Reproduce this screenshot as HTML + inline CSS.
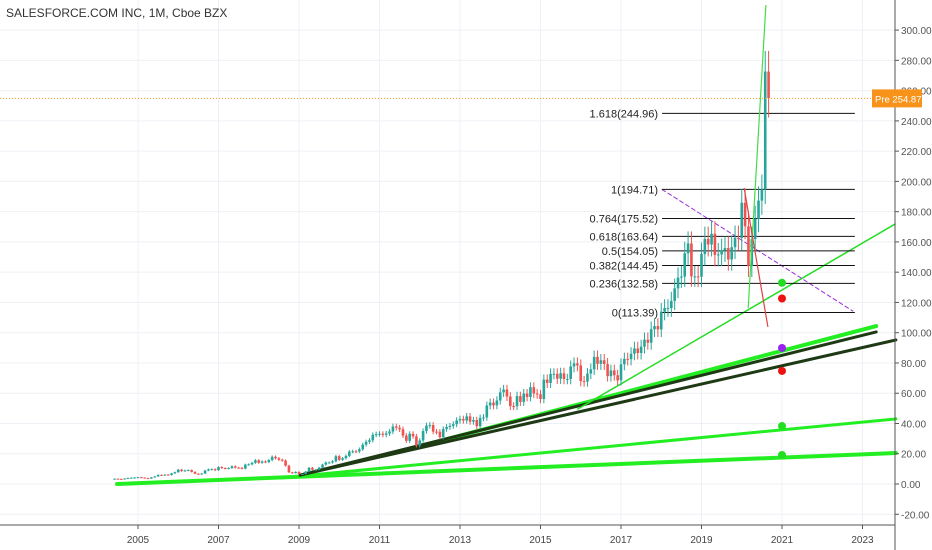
<!DOCTYPE html>
<html><head><meta charset="utf-8"><style>
html,body{margin:0;padding:0;background:#fff;}
svg{display:block;font-family:"Liberation Sans",sans-serif;}
</style></head><body>
<svg id="chart" width="932" height="550">
<rect x="0" y="0" width="932" height="550" fill="#fff"/>
<g id="grid"></g>
<g id="drawings"></g>
<g id="candles"></g>
<g id="overlay"></g>
<g id="axes"></g>
<text x="6" y="17" font-size="12" fill="#333">SALESFORCE.COM INC, 1M, Cboe BZX</text>
</svg>
<script>
const startYear = 2004 + 5/12;
const closes = [
3.5,3.4,3.2,3.6,4.0,4.2,4.3,
4.5,4.2,3.9,3.6,4.4,5.0,6.0,5.8,6.2,5.9,7.0,7.8,
9.5,8.5,9.0,9.2,8.0,6.8,6.5,6.9,8.9,9.7,9.8,9.1,
11.2,10.5,10.3,10.5,11.7,10.8,10.7,10.2,12.8,13.0,14.0,15.7,
14.0,14.9,14.5,15.8,18.0,17.0,16.0,15.5,12.1,7.7,7.2,8.0,
6.6,6.6,8.2,10.7,9.5,9.5,10.8,12.8,14.2,14.2,15.0,18.4,
16.0,17.0,18.6,21.4,21.6,21.5,23.0,26.0,27.9,28.9,32.5,33.0,
33.2,32.5,33.4,34.7,38.0,37.2,36.2,32.0,28.5,33.2,31.5,25.4,
28.8,35.0,38.6,38.9,34.6,34.5,31.0,36.3,37.7,38.4,39.5,42.0,
43.0,42.0,44.7,41.2,42.3,38.2,43.7,44.0,51.9,53.8,52.0,55.2,
60.6,62.4,57.8,51.5,51.4,58.1,54.3,59.8,57.5,64.0,59.8,59.3,
56.2,69.0,66.8,72.8,72.8,69.6,73.2,69.4,69.4,77.7,79.7,78.4,
68.0,67.7,73.0,75.8,84.0,79.4,81.8,79.3,71.3,75.1,71.9,68.5,
79.1,82.7,82.5,86.1,89.6,86.6,90.8,95.4,93.4,102.3,104.4,102.2,
113.9,116.3,116.3,121.0,129.3,136.4,137.1,152.5,159.0,137.2,137.2,137.0,
152.0,162.0,158.3,165.4,151.4,151.7,154.5,156.0,148.4,156.5,162.7,162.6,
185.9,170.3,144.0,161.9,175.2,187.3,194.8,272.6,255.0];
const priceTicks = [-20,0,20,40,60,80,100,120,140,160,180,200,220,240,260,280,300];
const yearTicks = [2005,2007,2009,2011,2013,2015,2017,2019,2021,2023];
const gridYears = [2005,2007,2009,2011,2013,2015,2017,2019,2021,2023];
const fibRatios = ["1.618","1","0.764","0.618","0.5","0.382","0.236","0"];
const fibValues = [244.96,194.71,175.52,163.64,154.05,144.45,132.58,113.39];
const fibStart = 2018.02, fibEnd = 2022.81;
const trendA = [2009.03,5.9,2023.34,100.5];
const trendB = [2009.03,5.9,2023.83,95.2];
const trendC = [2011.93,24.5,2023.34,104.4];
const trendD = [2015.93,49.6,2023.81,171.8];
const trendE = [2008.53,4.0,2023.83,43.0];
const trendF = [2004.48,0.0,2023.83,20.5];
const trendSteep = [2020.16,116.3,2020.60,316.6];
const trendRed = [2020.06,195.6,2020.65,103.8];
const trendPurple = [2018.02,194.71,2022.76,114.3];
const dotYear = 2021.0;
const dotPrices = [133,122.6,89.9,74.7,38.3,19.2];
const dotColors = ["#22dd22","#ee1111","#9922ee","#ee1111","#22dd22","#22dd22"];
const lastPrice = 254.87;

const X = yr => 782 + (yr - 2021) * 40.25;
const Y = v => 484 - v * 1.513;
const NS = "http://www.w3.org/2000/svg";
function mk(parent, tag, attrs){const e=document.createElementNS(NS,tag);for(const k in attrs)e.setAttribute(k,attrs[k]);document.getElementById(parent).appendChild(e);return e;}
const RIGHT = 895, BOTTOM = 525;

for(const v of priceTicks){
  const g = mk('grid','line',{x1:0,x2:RIGHT,y1:Y(v),y2:Y(v),stroke:'#eef0f5','stroke-width':1});
  
  
  const t = mk('axes','text',{x:901,y:Y(v)+4,'font-size':10,fill:'#555'});
  t.textContent = v.toFixed(2);
  
  
  const tk = mk('axes','line',{x1:RIGHT,x2:RIGHT+4,y1:Y(v),y2:Y(v),stroke:'#555'});
  
  
}
for(const yr of gridYears){
  const g = mk('grid','line',{x1:X(yr),x2:X(yr),y1:0,y2:BOTTOM,stroke:'#eef0f5','stroke-width':1});
  
  
}
for(const yr of yearTicks){
  const t = mk('axes','text',{x:X(yr),y:543,'font-size':10,fill:'#444','text-anchor':'middle'});
  t.textContent = yr;
  
  
  const tk = mk('axes','line',{x1:X(yr),x2:X(yr),y1:BOTTOM,y2:BOTTOM+4,stroke:'#555'});
  
  
}
let ax = mk('axes','line',{x1:RIGHT,x2:RIGHT,y1:0,y2:550,stroke:'#555'});


ax = mk('axes','line',{x1:0,x2:RIGHT,y1:BOTTOM,y2:BOTTOM,stroke:'#555'});



for(let i=0;i<closes.length;i++){
  const c = closes[i], o = i>0?closes[i-1]:c*0.95;
  const hi = Math.max(o,c)*1.05, lo = Math.min(o,c)*0.95;
  const x = X(startYear + i/12);
  const col = c>=o ? '#26a69a' : '#ef5350';
  const w = mk('candles','line',{x1:x,x2:x,y1:Y(hi),y2:Y(lo),stroke:col,'stroke-width':1});
  
  
  const top = Y(Math.max(o,c)), bot = Y(Math.min(o,c));
  const b = mk('candles','rect',{x:x-1.3,y:top,width:2.6,height:Math.max(1,bot-top),fill:col});
  
  
}

function line(arr,stroke,w,name,dash){
  const a={x1:X(arr[0]),y1:Y(arr[1]),x2:X(arr[2]),y2:Y(arr[3]),stroke:stroke,'stroke-width':w,'stroke-linecap':'round'};
  if(dash)a['stroke-dasharray']=dash;
  const e = mk('drawings','line',a);
  
  
}
line(trendF,'#22ee22',4,'trendline-base');
line(trendE,'#22ee22',3,'trendline-2009');
line(trendC,'#22ee22',4,'trendline-2012-green');
line(trendA,'#1e3a14',3,'trendline-2009-dark-a');
line(trendB,'#1e3a14',3,'trendline-2009-dark-b');
line(trendD,'#22dd22',1.5,'trendline-2016');
line(trendPurple,'#9b30d9',1,'purple-dashed-trend','4,3');

for(let i=0;i<fibValues.length;i++){
  const y = Y(fibValues[i]);
  const l = mk('drawings','line',{x1:X(fibStart),x2:X(fibEnd),y1:y,y2:y,stroke:'#111','stroke-width':1});
  
  
  const t = mk('drawings','text',{x:X(fibStart)-4,y:y+4,'font-size':11,fill:'#222','text-anchor':'end'});
  t.textContent = fibRatios[i]+'('+fibValues[i].toFixed(2)+')';
  
  
}

(function(){
  const mk2=(arr,stroke,w,name)=>{const e=mk('overlay','line',{x1:X(arr[0]),y1:Y(arr[1]),x2:X(arr[2]),y2:Y(arr[3]),stroke:stroke,'stroke-width':w});
  
  };
  mk2(trendSteep,'#44dd44',1.2,'trendline-steep');
  mk2(trendRed,'#e04040',1.2,'trendline-red');
})();

for(let i=0;i<dotPrices.length;i++){
  const d = mk('overlay','circle',{cx:X(dotYear),cy:Y(dotPrices[i]),r:4,fill:dotColors[i]});
  
  
}

const ly = Y(lastPrice);
let pl = mk('overlay','line',{x1:0,x2:RIGHT,y1:ly,y2:ly,stroke:'#f7931a','stroke-width':1,'stroke-dasharray':'1,2'});


let pr = mk('axes','rect',{x:872,y:ly-9,width:50,height:18,fill:'#f7931a'});


let pt = mk('axes','text',{x:875,y:ly+4,'font-size':9.5,fill:'#fff'});
pt.textContent = 'Pre ' + lastPrice.toFixed(2);


</script>
</body></html>
